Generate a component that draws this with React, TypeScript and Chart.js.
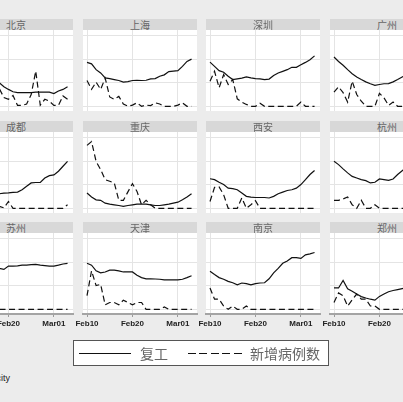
import React, { useEffect, useRef } from "react";
import { Chart, registerables } from "chart.js";

Chart.register(...registerables);

// ---------- data ----------
const days = [
  "Feb10", "Feb11", "Feb12", "Feb13", "Feb14", "Feb15", "Feb16", "Feb17",
  "Feb18", "Feb19", "Feb20", "Feb21", "Feb22", "Feb23", "Feb24", "Feb25",
  "Feb26", "Feb27", "Feb28", "Feb29", "Mar01", "Mar02", "Mar03", "Mar04",
];
const tickDays = [0, 10, 20];
const tickLabels = ["Feb10", "Feb20", "Mar01"];
const yGrid = [0, 1, 2, 3];

const cities = ["北京", "上海", "深圳", "广州", "成都", "重庆", "西安", "杭州", "苏州", "天津", "南京", "郑州"];

const beijingWork = [1.6, 1.5, 1.4, 1.3, 1.2, 1.15, 1.1, 1.05, 1.0, 0.83, 0.72, 0.62, 0.58, 0.58, 0.58, 0.58, 0.6, 0.6, 0.6, 0.6, 0.54, 0.65, 0.72, 0.83];
const beijingCases = [1.2, 1.0, 1.3, 0.9, 1.1, 0.8, 0.9, 0.7, 0.75, 0.37, 0.3, 0.46, 0.04, 0.04, 0.1, 0.5, 1.5, 0.05, 0.3, 0.22, 0.04, 0.04, 0.44, 0.3];

const shanghaiWork = [1.87, 1.81, 1.56, 1.42, 1.21, 1.18, 1.14, 1.1, 1.03, 1.05, 1.1, 1.11, 1.1, 1.11, 1.17, 1.18, 1.28, 1.34, 1.48, 1.5, 1.52, 1.7, 1.91, 2.01];
const shanghaiCases = [1.1, 0.72, 1.03, 0.72, 1.2, 0.4, 0.3, 0.42, 0.1, 0.0, 0.05, 0.15, 0.0, 0.05, 0.03, 0.15, 0.1, 0.0, 0.0, 0.0, 0.05, 0.15, 0.0, 0.0];

const shenzhenWork = [1.88, 1.7, 1.52, 1.45, 1.28, 1.14, 1.17, 1.2, 1.25, 1.21, 1.18, 1.17, 1.14, 1.16, 1.31, 1.42, 1.49, 1.56, 1.66, 1.66, 1.77, 1.87, 1.98, 2.15];
const shenzhenCases = [1.07, 1.49, 0.79, 1.35, 0.93, 1.14, 0.32, 0.18, 0.08, 0.0, 0.0, 0.13, 0.0, 0.0, 0.0, 0.0, 0.0, 0.0, 0.0, 0.0, 0.18, 0.0, 0.0, 0.0];

const guangzhouWork = [2.1, 1.91, 1.75, 1.56, 1.39, 1.25, 1.14, 1.04, 0.96, 0.89, 0.93, 0.96, 0.97, 1.04, 1.14, 1.25, 1.35, 1.45, 1.55, 1.62, 1.7, 1.8, 1.9, 2.0];
const guangzhouCases = [0.6, 0.83, 0.58, 0.18, 1.07, 0.5, 0.22, 0.0, 0.0, 0.0, 0.55, 0.36, 0.04, 0.18, 0.0, 0.0, 0.1, 0.0, 0.0, 0.0, 0.0, 0.0, 0.0, 0.0];

const chengduWork = [0.55, 0.55, 0.57, 0.58, 0.6, 0.6, 0.61, 0.62, 0.62, 0.65, 0.66, 0.68, 0.69, 0.79, 0.94, 1.08, 1.1, 1.1, 1.29, 1.39, 1.42, 1.58, 1.79, 2.0];
const chengduCases = [0.6, 0.5, 0.4, 0.45, 0.3, 0.25, 0.2, 0.15, 0.08, 0.02, 0.29, 0.0, 0.0, 0.0, 0.0, 0.0, 0.0, 0.0, 0.0, 0.0, 0.0, 0.0, 0.0, 0.15];

const chongqingWork = [0.65, 0.48, 0.36, 0.34, 0.22, 0.18, 0.15, 0.12, 0.08, 0.12, 0.15, 0.18, 0.18, 0.18, 0.15, 0.12, 0.12, 0.15, 0.18, 0.22, 0.26, 0.36, 0.48, 0.62];
const chongqingCases = [2.68, 2.84, 2.0, 1.65, 1.22, 1.15, 1.08, 0.34, 0.34, 0.7, 1.05, 0.72, 0.15, 0.34, 0.15, 0.0, 0.0, 0.0, 0.0, 0.0, 0.0, 0.0, 0.0, 0.0];

const xianWork = [1.26, 1.22, 1.11, 1.01, 0.86, 0.84, 0.79, 0.65, 0.51, 0.48, 0.46, 0.46, 0.46, 0.44, 0.51, 0.62, 0.69, 0.76, 0.79, 0.86, 1.01, 1.22, 1.44, 1.61];
const xianCases = [0.29, 0.89, 0.91, 0.58, 0.0, 0.0, 0.0, 0.44, 0.0, 0.15, 0.32, 0.0, 0.0, 0.0, 0.0, 0.0, 0.0, 0.0, 0.0, 0.0, 0.0, 0.0, 0.0, 0.0];

const hangzhouWork = [2.0, 1.86, 1.68, 1.51, 1.36, 1.29, 1.22, 1.18, 1.08, 1.11, 1.25, 1.22, 1.19, 1.25, 1.44, 1.6, 1.75, 1.85, 1.95, 2.05, 2.1, 2.15, 2.2, 2.25];
const hangzhouCases = [0.34, 0.34, 0.4, 0.48, 0.15, 0.0, 0.34, 0.0, 0.0, 0.15, 0.0, 0.0, 0.0, 0.0, 0.0, 0.0, 0.0, 0.0, 0.0, 0.0, 0.0, 0.0, 0.0, 0.0];

const suzhouWork = [1.5, 1.55, 1.6, 1.62, 1.65, 1.68, 1.7, 1.72, 1.74, 1.7, 1.84, 1.84, 1.85, 1.88, 1.88, 1.9, 1.91, 1.88, 1.86, 1.84, 1.84, 1.88, 1.93, 1.96];
const suzhouCases = [0.3, 0.2, 0.1, 0.1, 0.05, 0.0, 0.0, 0.0, 0.0, 0.0, 0.0, 0.0, 0.0, 0.0, 0.0, 0.0, 0.0, 0.0, 0.0, 0.0, 0.0, 0.0, 0.0, 0.0];

const tianjinWork = [1.96, 1.88, 1.64, 1.55, 1.59, 1.67, 1.67, 1.64, 1.59, 1.59, 1.59, 1.45, 1.35, 1.3, 1.3, 1.29, 1.28, 1.25, 1.25, 1.25, 1.25, 1.28, 1.35, 1.43];
const tianjinCases = [0.58, 1.64, 1.01, 1.06, 0.19, 0.29, 0.29, 0.19, 0.39, 0.29, 0.19, 0.29, 0.29, 0.0, 0.0, 0.0, 0.0, 0.1, 0.0, 0.0, 0.0, 0.0, 0.0, 0.0];

const nanjingWork = [1.62, 1.48, 1.35, 1.28, 1.19, 1.13, 1.04, 1.12, 1.09, 1.04, 1.09, 1.12, 1.13, 1.3, 1.55, 1.74, 1.96, 2.06, 2.2, 2.2, 2.17, 2.32, 2.36, 2.42];
const nanjingCases = [0.91, 0.43, 0.43, 0.14, 0.0, 0.14, 0.0, 0.0, 0.14, 0.0, 0.0, 0.0, 0.0, 0.0, 0.0, 0.0, 0.0, 0.0, 0.0, 0.0, 0.0, 0.0, 0.0, 0.0];

const zhengzhouWork = [0.91, 0.91, 1.23, 0.87, 0.77, 0.65, 0.54, 0.48, 0.43, 0.39, 0.55, 0.65, 0.75, 0.8, 0.84, 0.88, 0.92, 0.95, 0.97, 1.0, 1.05, 1.1, 1.15, 1.2];
const zhengzhouCases = [0.29, 0.7, 0.58, 0.14, 0.4, 0.65, 0.43, 0.43, 0.14, 0.14, 0.0, 0.0, 0.0, 0.0, 0.0, 0.0, 0.0, 0.0, 0.0, 0.0, 0.0, 0.0, 0.0, 0.0];

const workSeries = [beijingWork, shanghaiWork, shenzhenWork, guangzhouWork, chengduWork, chongqingWork, xianWork, hangzhouWork, suzhouWork, tianjinWork, nanjingWork, zhengzhouWork];
const caseSeries = [beijingCases, shanghaiCases, shenzhenCases, guangzhouCases, chengduCases, chongqingCases, xianCases, hangzhouCases, suzhouCases, tianjinCases, nanjingCases, zhengzhouCases];

const legendLabels = ["复工", "新增病例数"];
const noteText = "Graphs by city";

// ---------- layout ----------
const COL_LEFT = [-41, 83, 206, 330];
const ROW_TOP = [19, 121, 222];
const PANEL_W = 114;
const HEADER_H = 11;
const PLOT_H = 81;
const PAD = 14;
const AXIS_H = 20;

const CJK = '"Noto Sans CJK SC", "Noto Sans", sans-serif';

function Panel({ idx }: { idx: number }) {
  const ref = useRef<HTMLCanvasElement | null>(null);
  const row = Math.floor(idx / 4);
  const col = idx % 4;
  const bottom = row === 2;
  const cw = PANEL_W + 2 * PAD;
  const ch = PLOT_H + (bottom ? AXIS_H : 0);

  useEffect(() => {
    if (!ref.current) return;
    const toPts = (arr: number[]) => arr.map((v, i) => ({ x: i, y: v, d: days[i] }));
    const chart = new Chart(ref.current, {
      type: "line",
      data: {
        datasets: [
          {
            label: legendLabels[0],
            data: toPts(workSeries[idx]),
            borderColor: "#111",
            borderWidth: 1.2,
            pointRadius: 0,
            tension: 0,
            fill: false,
          },
          {
            label: legendLabels[1],
            data: toPts(caseSeries[idx]),
            borderColor: "#111",
            borderWidth: 1.2,
            borderDash: [6, 3.5],
            pointRadius: 0,
            tension: 0,
            fill: false,
          },
        ],
      },
      options: {
        animation: false,
        responsive: false,
        events: [],
        layout: { padding: { left: PAD, right: PAD, top: 0, bottom: 0 } },
        plugins: { legend: { display: false }, tooltip: { enabled: false } },
        scales: {
          x: {
            type: "linear",
            min: -0.88,
            max: 24.2,
            afterBuildTicks: (s: any) => {
              s.ticks = tickDays.map((v) => ({ value: v }));
            },
            afterFit: (s: any) => {
              s.height = bottom ? AXIS_H : 0;
            },
            ticks: {
              display: bottom,
              autoSkip: false,
              maxRotation: 0,
              padding: 2,
              color: "#222",
              font: { size: 8, family: '"Liberation Sans", Arial, sans-serif', weight: "bold" },
              callback: (_v: any, i: number) => tickLabels[i],
            },
            grid: {
              color: "#e4e4e4",
              lineWidth: 1,
              drawTicks: bottom,
              tickLength: 3,
              tickColor: "#9a9a9a",
            },
            border: { display: bottom, color: "#a4a4a4", width: 2 },
          },
          y: {
            min: -0.2,
            max: 3.25,
            afterBuildTicks: (s: any) => {
              s.ticks = yGrid.map((v) => ({ value: v }));
            },
            afterFit: (s: any) => {
              s.width = 0;
            },
            ticks: { display: false },
            grid: { color: "#e4e4e4", lineWidth: 1, drawTicks: false },
            border: { display: false },
          },
        },
      },
      plugins: [
        {
          id: "plotBg",
          beforeDraw(c: any) {
            const { ctx, chartArea: a } = c;
            ctx.save();
            ctx.fillStyle = "#ffffff";
            ctx.fillRect(a.left, a.top, a.right - a.left, a.bottom - a.top);
            ctx.restore();
          },
        },
      ],
    } as any);
    return () => chart.destroy();
  }, [idx]);

  const left = COL_LEFT[col];
  const top = ROW_TOP[row];
  return (
    <>
      <div
        style={{
          position: "absolute",
          left,
          top,
          width: PANEL_W,
          height: HEADER_H,
          background: "#d8d8d8",
          color: "#666",
          fontFamily: CJK,
          fontSize: 10,
          lineHeight: `${HEADER_H}px`,
          textAlign: "center",
          overflow: "hidden",
        }}
      >
        {cities[idx]}
      </div>
      <canvas
        ref={ref}
        width={cw}
        height={ch}
        style={{
          position: "absolute",
          left: left - PAD,
          top: top + HEADER_H,
          width: cw,
          height: ch,
        }}
      />
    </>
  );
}

export default function App() {
  return (
    <div
      style={{
        position: "fixed",
        left: 0,
        top: 0,
        width: 403,
        height: 402,
        overflow: "hidden",
        background: "#ececec",
      }}
    >
      {cities.map((_, i) => (
        <Panel key={i} idx={i} />
      ))}
      {/* legend */}
      <div
        style={{
          position: "absolute",
          left: 73,
          top: 340,
          width: 254,
          height: 24,
          background: "#fff",
          border: "1px solid #555",
        }}
      >
        <div style={{ position: "absolute", left: 5, top: 12, width: 52, height: 1, background: "#111" }} />
        <div
          style={{
            position: "absolute",
            left: 66,
            top: 0,
            height: 24,
            lineHeight: "24px",
            fontFamily: CJK,
            fontSize: 14,
            color: "#666",
            whiteSpace: "nowrap",
          }}
        >
          {legendLabels[0]}
        </div>
        <div
          style={{
            position: "absolute",
            left: 114,
            top: 12,
            width: 54,
            height: 1,
            background: "repeating-linear-gradient(to right, #111 0px, #111 8px, transparent 8px, transparent 11.5px)",
          }}
        />
        <div
          style={{
            position: "absolute",
            left: 176,
            top: 0,
            height: 24,
            lineHeight: "24px",
            fontFamily: CJK,
            fontSize: 14,
            color: "#666",
            whiteSpace: "nowrap",
          }}
        >
          {legendLabels[1]}
        </div>
      </div>
      {/* note */}
      <div
        style={{
          position: "absolute",
          left: -100,
          width: 110,
          top: 373,
          textAlign: "right",
          fontFamily: '"Liberation Sans", Arial, sans-serif',
          fontSize: 9,
          color: "#222",
          whiteSpace: "nowrap",
        }}
      >
        {noteText}
      </div>
    </div>
  );
}
